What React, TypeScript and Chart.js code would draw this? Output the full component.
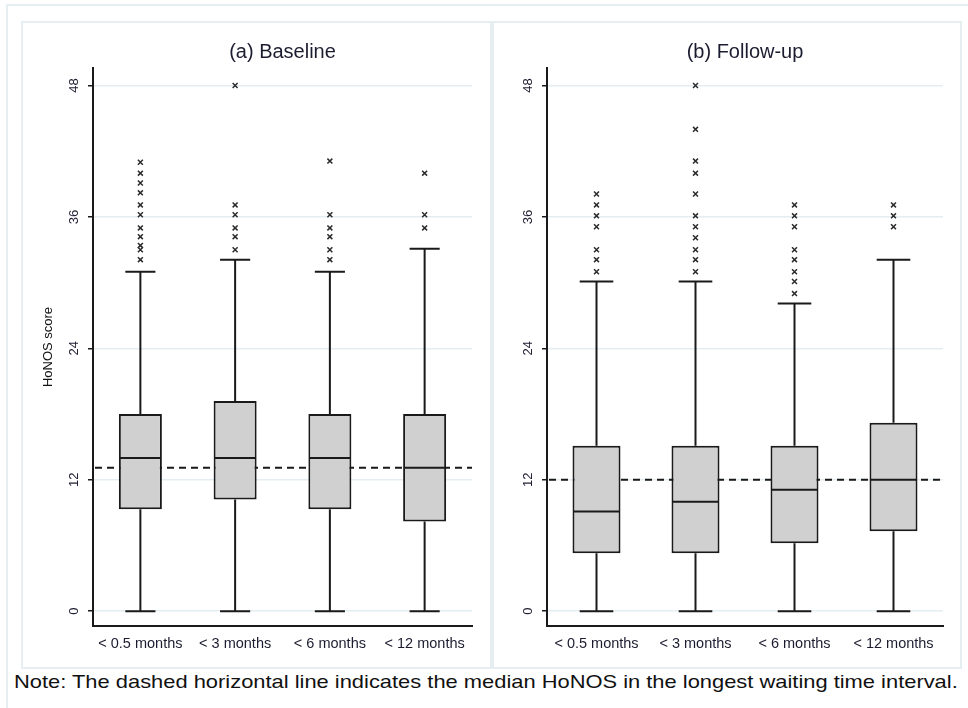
import React, { useEffect, useRef } from 'react';
import { Chart, registerables } from 'chart.js';
Chart.register(...registerables);

const categories = ['< 0.5 months', '< 3 months', '< 6 months', '< 12 months'];
const yTicks = [0, 12, 24, 36, 48];

// (a) Baseline
const baselineLow = [0, 0, 0, 0];
const baselineQ1 = [9.3, 10.2, 9.3, 8.2];
const baselineMedian = [14, 14, 14, 13.1];
const baselineQ3 = [18, 19.2, 18, 18];
const baselineHigh = [31, 32.1, 31, 33.1];
const baselineOutliers1 = [41, 40, 39.1, 38.2, 37.1, 36.2, 35, 34.2, 33.4, 33, 32.1];
const baselineOutliers2 = [48, 37.1, 36.2, 35, 34.2, 33];
const baselineOutliers3 = [41.1, 36.2, 35, 34.2, 33, 32.1];
const baselineOutliers4 = [40, 36.2, 35];
const baselineRef = 13.1;

// (b) Follow-up
const followLow = [0, 0, 0, 0];
const followQ1 = [5.3, 5.3, 6.2, 7.3];
const followMedian = [9.1, 10, 11.1, 12];
const followQ3 = [15.1, 15.1, 15.1, 17.2];
const followHigh = [30.1, 30.1, 28.1, 32.1];
const followOutliers1 = [38.1, 37.1, 36.1, 35.1, 33, 32.1, 31];
const followOutliers2 = [48, 44, 41.1, 40, 38.1, 36.1, 35.1, 34.1, 33, 32.1, 31];
const followOutliers3 = [37.1, 36.1, 35.1, 33, 32.1, 31, 30.1, 29];
const followOutliers4 = [37.1, 36.1, 35.1];
const followRef = 12;

const FONT = "'Liberation Sans', Arial, sans-serif";
const LINE = '#1a1a1a';
const GRID = '#e4edf1';
const FRAME = '#e6eef2';
const TEXT = '#1c1c30';
const BOX_FILL = '#d0d0d0';
const CAP = 0.7;

type PanelProps = {
  title: string;
  low: number[]; q1: number[]; med: number[]; q3: number[]; high: number[];
  outliers: number[][];
  refValue: number;
  yTitle: string | null;
  left: number; width: number; axisWidth: number; rightPad: number; barPct: number;
};

function makeBoxPlugin(p: PanelProps) {
  return {
    id: 'boxParts',
    beforeDatasetsDraw(chart: any) {
      const { ctx, chartArea, scales } = chart;
      const y = scales.y;
      const meta = chart.getDatasetMeta(0);
      ctx.save();
      ctx.strokeStyle = LINE;
      ctx.lineWidth = 2;
      ctx.setLineDash([7, 5]);
      const yr = y.getPixelForValue(p.refValue);
      ctx.beginPath();
      ctx.moveTo(chartArea.left + 2, yr);
      ctx.lineTo(chartArea.right, yr);
      ctx.stroke();
      ctx.setLineDash([]);
      meta.data.forEach((bar: any, i: number) => {
        const cx = bar.x;
        const half = (bar.width * CAP) / 2;
        const pairs = [[p.q1[i], p.low[i]], [p.q3[i], p.high[i]]];
        pairs.forEach(([from, to]) => {
          const a = y.getPixelForValue(from);
          const b = y.getPixelForValue(to);
          ctx.beginPath();
          ctx.moveTo(cx, a);
          ctx.lineTo(cx, b);
          ctx.moveTo(cx - half, b);
          ctx.lineTo(cx + half, b);
          ctx.stroke();
        });
      });
      ctx.restore();
    },
    afterDatasetsDraw(chart: any) {
      const { ctx, scales } = chart;
      const y = scales.y;
      const meta = chart.getDatasetMeta(0);
      ctx.save();
      ctx.strokeStyle = LINE;
      ctx.lineWidth = 2;
      meta.data.forEach((bar: any, i: number) => {
        const ym = y.getPixelForValue(p.med[i]);
        ctx.beginPath();
        ctx.moveTo(bar.x - bar.width / 2 + 1, ym);
        ctx.lineTo(bar.x + bar.width / 2 - 1, ym);
        ctx.stroke();
      });
      ctx.restore();
    },
  };
}

function Panel(p: PanelProps) {
  const ref = useRef<HTMLCanvasElement | null>(null);
  useEffect(() => {
    if (!ref.current) return;
    const points = p.outliers.flatMap((arr, i) => arr.map((v) => ({ x: categories[i], y: v })));
    const chart = new Chart(ref.current, {
      data: {
        labels: categories,
        datasets: [
          {
            type: 'bar',
            data: p.q1.map((v, i) => [v, p.q3[i]]),
            backgroundColor: BOX_FILL,
            borderColor: LINE,
            borderWidth: 2,
            borderSkipped: false,
            barPercentage: p.barPct,
            categoryPercentage: 1,
          } as any,
          {
            type: 'line',
            data: points,
            showLine: false,
            pointStyle: 'crossRot',
            pointRadius: 3.5,
            pointBorderColor: '#2b2b2b',
            pointBackgroundColor: '#2b2b2b',
            pointBorderWidth: 1.5,
            borderColor: '#2b2b2b',
          } as any,
        ],
      },
      options: {
        animation: false,
        responsive: false,
        events: [],
        layout: { padding: { left: 0, right: p.rightPad, top: 0, bottom: 0 } },
        plugins: {
          legend: { display: false },
          tooltip: { enabled: false },
          title: {
            display: true,
            text: p.title,
            fullSize: false,
            color: TEXT,
            font: { family: FONT, size: 20, weight: 'normal' },
            padding: { top: 18, bottom: 4 },
          },
        },
        scales: {
          x: {
            type: 'category',
            offset: true,
            grid: { display: false, drawTicks: false },
            border: { display: true, color: LINE, width: 2 },
            ticks: { font: { family: FONT, size: 14.5 }, color: TEXT, padding: 9, maxRotation: 0, minRotation: 0, autoSkip: false },
            afterFit: (s: any) => { s.height = 41; },
          },
          y: {
            type: 'linear',
            min: -1.35,
            max: 49.6,
            afterBuildTicks: (s: any) => { s.ticks = yTicks.map((v) => ({ value: v })); },
            grid: { color: GRID, lineWidth: 1.5, tickColor: LINE, tickLength: 5, tickWidth: 1.5 },
            border: { color: LINE, width: 2 },
            ticks: { minRotation: 90, maxRotation: 90, crossAlign: 'center', padding: 6, font: { family: FONT, size: 13 }, color: TEXT },
            title: p.yTitle
              ? { display: true, text: p.yTitle, color: '#111', font: { family: FONT, size: 13 }, padding: { top: 19, bottom: 0 } }
              : { display: false },
            afterFit: (s: any) => { s.width = p.axisWidth; },
          },
        },
      } as any,
      plugins: [makeBoxPlugin(p)],
    });
    return () => chart.destroy();
  }, []);
  return (
    <canvas
      ref={ref}
      width={p.width}
      height={645}
      style={{ position: 'absolute', left: p.left, top: 22, width: p.width, height: 645 }}
    />
  );
}

export default function App() {
  return (
    <div style={{ position: 'fixed', left: 0, top: 0, width: 968, height: 708, background: '#fff', overflow: 'hidden', fontFamily: FONT }}>
      <div style={{ position: 'absolute', left: 6, top: 4, width: 980, height: 720, border: `2px solid ${FRAME}` }} />
      <div style={{ position: 'absolute', left: 21, top: 21, width: 469, height: 644, border: `2px solid ${FRAME}` }} />
      <div style={{ position: 'absolute', left: 490, top: 21, width: 468, height: 644, border: `2px solid ${FRAME}` }} />
      <Panel
        title="(a) Baseline"
        low={baselineLow} q1={baselineQ1} med={baselineMedian} q3={baselineQ3} high={baselineHigh}
        outliers={[baselineOutliers1, baselineOutliers2, baselineOutliers3, baselineOutliers4]}
        refValue={baselineRef}
        yTitle="HoNOS score"
        left={22} width={468} axisWidth={71} rightPad={18} barPct={0.454}
      />
      <Panel
        title="(b) Follow-up"
        low={followLow} q1={followQ1} med={followMedian} q3={followQ3} high={followHigh}
        outliers={[followOutliers1, followOutliers2, followOutliers3, followOutliers4]}
        refValue={followRef}
        yTitle={null}
        left={493} width={466} axisWidth={54} rightPad={16} barPct={0.485}
      />
      <div
        style={{
          position: 'absolute', left: 14, top: 671, fontSize: 19, color: '#111', whiteSpace: 'nowrap',
          transform: 'scaleX(1.152)', transformOrigin: 'left top', lineHeight: '22px',
        }}
      >
        Note: The dashed horizontal line indicates the median HoNOS in the longest waiting time interval.
      </div>
    </div>
  );
}
